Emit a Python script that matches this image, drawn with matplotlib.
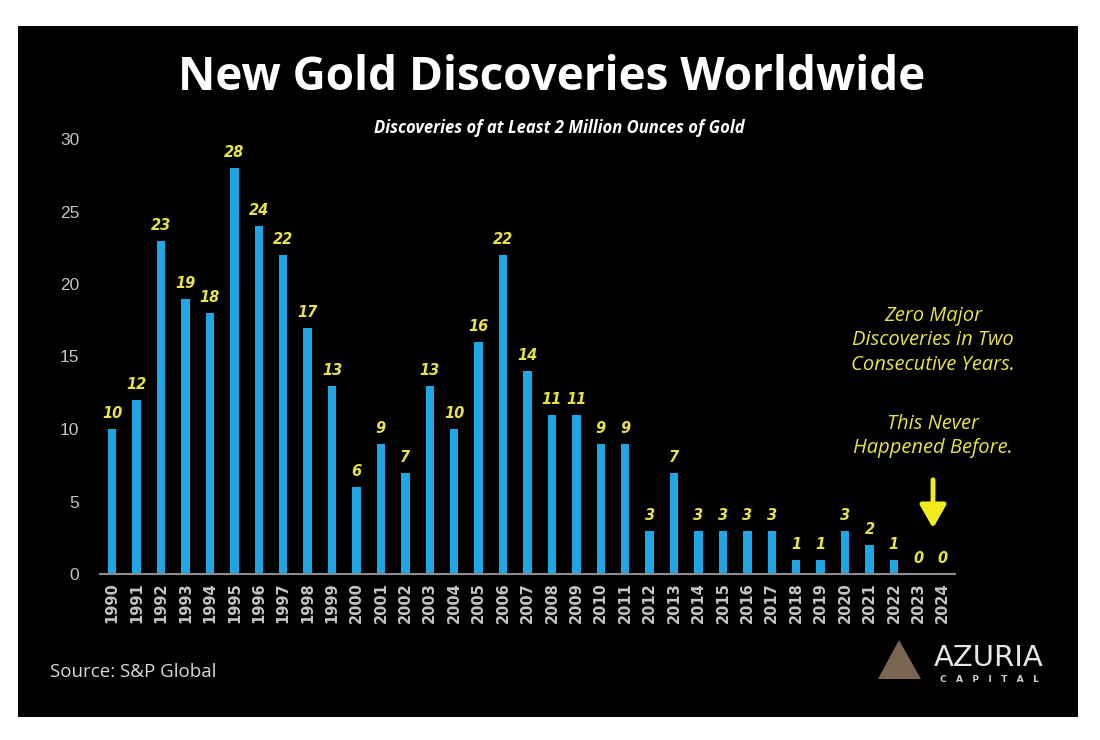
import matplotlib
matplotlib.use("Agg")
import matplotlib.pyplot as plt
from matplotlib.patches import Rectangle, Polygon

years = [str(y) for y in range(1990, 2025)]
discoveries = [10, 12, 23, 19, 18, 28, 24, 22, 17, 13,
               6, 9, 7, 13, 10, 16, 22, 14, 11, 11,
               9, 9, 3, 7, 3, 3, 3, 3, 1, 1,
               3, 2, 1, 0, 0]
y_ticks = [0, 5, 10, 15, 20, 25, 30]

BAR = "#1ea6e6"
YEL = "#e8e24a"
GRAY = "#c4c4c4"

fig = plt.figure(figsize=(11, 7.4), dpi=100, facecolor="white")
fig.patches.append(Rectangle((18/1100, 1 - 717/740), (1078-18)/1100, (717-26)/740,
                             transform=fig.transFigure, facecolor="black",
                             edgecolor="none", zorder=-10))

ax = fig.add_axes([100/1100, 166/740, 855/1100, 435/740])
ax.set_facecolor("black")
x = list(range(len(years)))
ax.bar(x, discoveries, width=0.34, color=BAR, zorder=2)
for xi, v in zip(x, discoveries):
    ax.text(xi, v + 0.55, str(v), ha="center", va="bottom", color=YEL,
            fontsize=10.5, fontweight="bold", fontstyle="italic", family="DejaVu Sans")

ax.set_xlim(-0.5, len(years) - 0.5)
ax.set_ylim(0, 30)
ax.set_xticks(x)
ax.set_xticklabels(years, rotation=90, color=GRAY, fontsize=10.5, fontweight="bold",
                   family="DejaVu Sans")
ax.set_yticks(y_ticks)
ax.set_yticklabels([str(t) for t in y_ticks], color=GRAY, fontsize=12.5, family="Liberation Sans")
ax.tick_params(axis="both", length=0)
ax.tick_params(axis="y", pad=15)
ax.tick_params(axis="x", pad=6)
for s in ["top", "right", "left"]:
    ax.spines[s].set_visible(False)
ax.spines["bottom"].set_color("#8c8c8c")
ax.spines["bottom"].set_linewidth(1.5)

fig.text(552/1100, 1 - 78/740, "New Gold Discoveries Worldwide", ha="center", va="center",
         color="white", fontsize=33, fontweight="bold", family="Open Sans")
fig.text(559/1100, 1 - 128/740, "Discoveries of at Least 2 Million Ounces of Gold",
         ha="center", va="center", color="white", fontsize=12, fontweight="bold",
         fontstyle="italic", family="Open Sans")

ann1 = "Zero Major\nDiscoveries in Two\nConsecutive Years."
ann2 = "This Never\nHappened Before."
fig.text(933/1100, 1 - 340/740, ann1, ha="center", va="center", color=YEL,
         fontsize=14.5, fontstyle="italic", family="Open Sans", linespacing=1.3)
fig.text(933/1100, 1 - 436/740, ann2, ha="center", va="center", color=YEL,
         fontsize=14.5, fontstyle="italic", family="Open Sans", linespacing=1.3)
ax.annotate("", xy=(933/1100, 1 - 531/740), xytext=(933/1100, 1 - 477/740),
            xycoords="figure fraction", textcoords="figure fraction",
            arrowprops=dict(arrowstyle="-|>,head_width=0.8,head_length=1.4",
                            color="#f2ea1a", lw=3.5))

fig.text(50/1100, 1 - 672/740, "Source: S&P Global", ha="left", va="center",
         color="#d9d9d9", fontsize=13.5, family="Open Sans")

fig.patches.append(Polygon([(899/1100, 1 - 640/740), (878/1100, 1 - 679/740),
                            (921/1100, 1 - 679/740)], closed=True,
                           transform=fig.transFigure, facecolor="#7a6650",
                           edgecolor="none", zorder=1))
fig.text(989/1100, 1 - 658/740, "AZURIA", ha="center", va="center", color="#e6e6e6",
         fontsize=21, family="DejaVu Sans")
fig.text(989/1100, 1 - 679/740, "C   A   P   I   T   A   L", ha="center", va="center",
         color="#cfcfcf", fontsize=6.5, fontweight="bold", family="DejaVu Sans")

fig.savefig("out.png", dpi=100, facecolor="white")
